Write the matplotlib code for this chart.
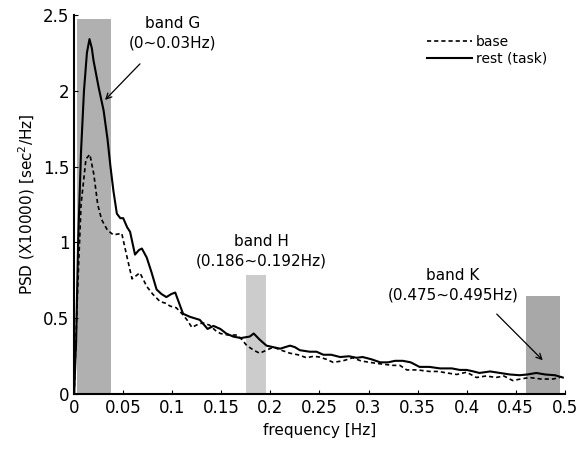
import matplotlib
matplotlib.use('Agg')
import matplotlib.pyplot as plt

# rest (task) -- solid curve
rest_f = [0, 0.002, 0.004, 0.007, 0.010, 0.013, 0.0156, 0.018, 0.0197, 0.025,
          0.030, 0.034, 0.037, 0.040, 0.0435, 0.047, 0.050, 0.054, 0.057, 0.062,
          0.066, 0.069, 0.074, 0.079, 0.084, 0.089, 0.094, 0.099, 0.103, 0.107,
          0.111, 0.118, 0.123, 0.128, 0.136, 0.142, 0.149, 0.155, 0.162, 0.170,
          0.179, 0.183, 0.189, 0.196, 0.203, 0.210, 0.215, 0.220, 0.225, 0.230,
          0.240, 0.247, 0.254, 0.262, 0.271, 0.280, 0.288, 0.294, 0.303, 0.312,
          0.320, 0.327, 0.335, 0.343, 0.352, 0.362, 0.373, 0.385, 0.393, 0.400,
          0.407, 0.413, 0.424, 0.434, 0.444, 0.454, 0.462, 0.471, 0.480, 0.490,
          0.498]
rest_p = [0, 0.35, 1.0, 1.6, 2.0, 2.25, 2.34, 2.28, 2.20, 2.02,
          1.87, 1.68, 1.50, 1.34, 1.19, 1.16, 1.16, 1.10, 1.07, 0.92,
          0.95, 0.96, 0.90, 0.80, 0.69, 0.66, 0.64, 0.66, 0.67, 0.60,
          0.53, 0.51, 0.50, 0.49, 0.43, 0.45, 0.43, 0.40, 0.38, 0.37,
          0.38, 0.40, 0.36, 0.32, 0.31, 0.30, 0.31, 0.32, 0.31, 0.29,
          0.28, 0.28, 0.26, 0.26, 0.245, 0.25, 0.24, 0.245, 0.23, 0.21,
          0.21, 0.22, 0.22, 0.21, 0.18, 0.18, 0.17, 0.17, 0.16, 0.16,
          0.15, 0.14, 0.15, 0.14, 0.13, 0.125, 0.13, 0.14, 0.13, 0.125,
          0.11]

# base -- dashed curve
base_f = [0, 0.003, 0.007, 0.012, 0.016, 0.020, 0.024, 0.028, 0.034, 0.040,
          0.0485, 0.054, 0.059, 0.063, 0.067, 0.074, 0.080, 0.0876, 0.093, 0.098,
          0.104, 0.110, 0.115, 0.120, 0.126, 0.131, 0.138, 0.144, 0.149, 0.157,
          0.166, 0.171, 0.176, 0.183, 0.189, 0.196, 0.203, 0.211, 0.220, 0.228,
          0.237, 0.244, 0.250, 0.257, 0.264, 0.274, 0.284, 0.292, 0.301, 0.312,
          0.325, 0.332, 0.339, 0.350, 0.362, 0.371, 0.380, 0.390, 0.400, 0.410,
          0.420, 0.430, 0.438, 0.447, 0.455, 0.464, 0.476, 0.488, 0.495]
base_p = [0, 0.6, 1.25, 1.55, 1.58, 1.45, 1.25, 1.15, 1.08, 1.05,
          1.06, 0.90, 0.76, 0.78, 0.80, 0.71, 0.66, 0.61, 0.60, 0.58,
          0.57, 0.53, 0.49, 0.44, 0.46, 0.47, 0.455, 0.42, 0.40, 0.39,
          0.39, 0.36, 0.32, 0.29, 0.27, 0.29, 0.31, 0.29, 0.27, 0.26,
          0.24, 0.25, 0.245, 0.23, 0.21, 0.22, 0.24, 0.22, 0.21, 0.20,
          0.19, 0.19, 0.16, 0.16, 0.15, 0.15, 0.14, 0.13, 0.145, 0.11,
          0.12, 0.11, 0.12, 0.09, 0.10, 0.11, 0.10, 0.10, 0.11]

# shaded bands
band_lo = [0.003, 0.175, 0.461]
band_hi = [0.038, 0.1955, 0.495]
band_top = [2.47, 0.785, 0.65]
band_col = ['#b0b0b0', '#cccccc', '#a8a8a8']

band_text = ['band G\n(0~0.03Hz)', 'band H\n(0.186~0.192Hz)', 'band K\n(0.475~0.495Hz)']
text_xy = [(0.100, 2.38), (0.191, 0.94), (0.386, 0.72)]

xticks = [0, 0.05, 0.1, 0.15, 0.2, 0.25, 0.3, 0.35, 0.4, 0.45, 0.5]
xticklabels = ['0', '0.05', '0.1', '0.15', '0.2', '0.25', '0.3', '0.35', '0.4', '0.45', '0.5']
yticks = [0, 0.5, 1, 1.5, 2, 2.5]
yticklabels = ['0', '0.5', '1', '1.5', '2', '2.5']

plt.rcParams['font.family'] = 'DejaVu Sans'

fig = plt.figure(figsize=(5.84, 4.5), dpi=100)
ax = fig.add_axes([0.127, 0.124, 0.840, 0.843])

for lo, hi, top, c in zip(band_lo, band_hi, band_top, band_col):
    ax.fill_between([lo, hi], 0, top, color=c, lw=0, zorder=1)

ax.plot(base_f, base_p, color='black', lw=1.2, ls=(0, (2.5, 1.8)), label='base', zorder=3)
ax.plot(rest_f, rest_p, color='black', lw=1.5, label='rest (task)', zorder=4)

for t, (tx, ty) in zip(band_text, text_xy):
    ax.text(tx, ty, t, ha='center', va='center', fontsize=11, linespacing=1.4)

ax.annotate('', xy=(0.0295, 1.926), xytext=(0.069, 2.19),
            arrowprops=dict(arrowstyle='->', color='black', lw=0.9))
ax.annotate('', xy=(0.4796, 0.211), xytext=(0.4287, 0.541),
            arrowprops=dict(arrowstyle='->', color='black', lw=0.9))

ax.set_xlim(0, 0.5)
ax.set_ylim(0, 2.5)
ax.set_xticks(xticks)
ax.set_xticklabels(xticklabels)
ax.set_yticks(yticks)
ax.set_yticklabels(yticklabels)
ax.tick_params(direction='in', length=3, labelsize=12)
ax.spines['top'].set_visible(False)
ax.spines['right'].set_visible(False)
ax.spines['left'].set_linewidth(1.5)
ax.spines['bottom'].set_linewidth(1.5)

ax.set_xlabel('frequency [Hz]', fontsize=11)
ax.set_ylabel('PSD (X10000) [sec$^2$/Hz]', fontsize=11)

ax.legend(loc='upper right', bbox_to_anchor=(0.99, 0.98), frameon=False,
          fontsize=10, handlelength=3.2, handletextpad=0.3, labelspacing=0.2)

fig.savefig('out.png', dpi=100)
